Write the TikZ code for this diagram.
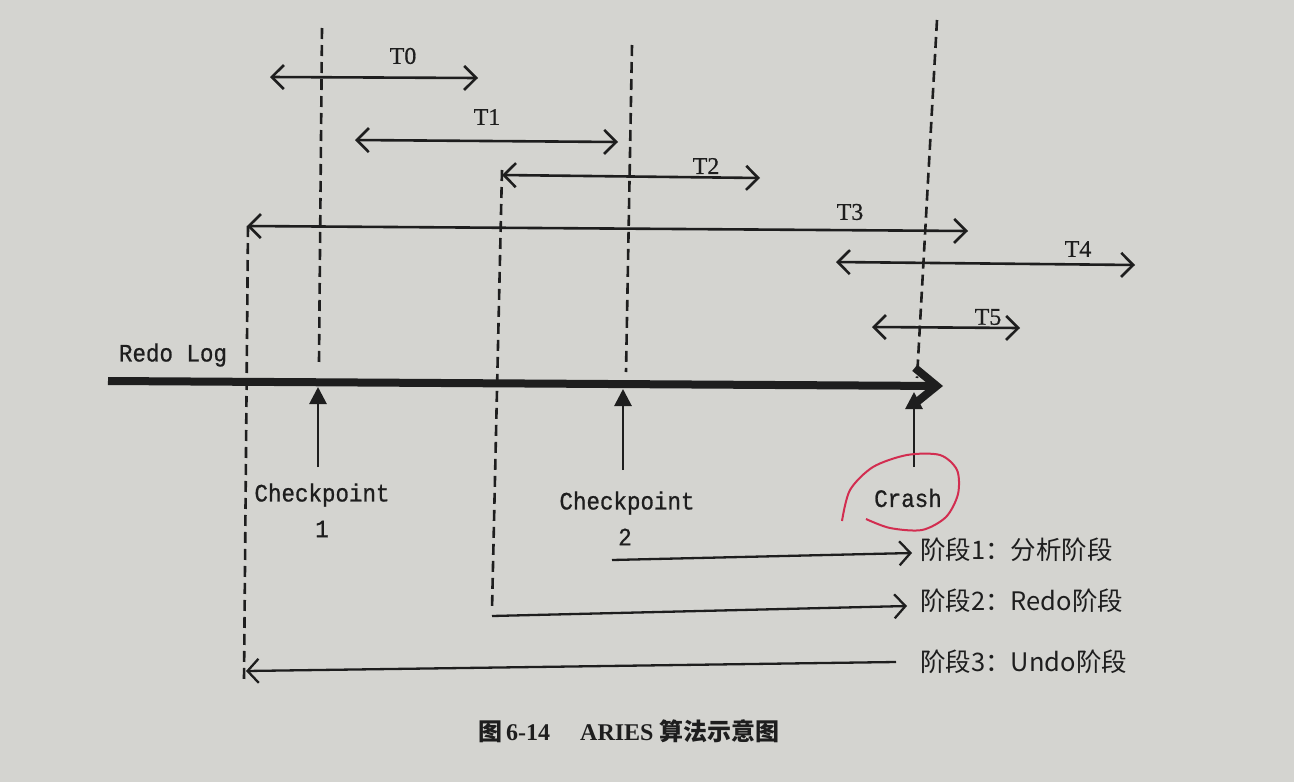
\documentclass[tikz,border=0pt]{standalone}
\usepackage{fontspec}
\setmainfont{Liberation Serif}
\newfontfamily\logfont[FakeStretch=0.9,FakeBold=0.8]{Liberation Mono}
\newfontfamily\tfont[FakeBold=0.6]{Liberation Serif}
\newfontfamily\cjk{Noto Sans CJK SC}
\usetikzlibrary{arrows.meta}
\definecolor{paper}{RGB}{212,212,208}
\definecolor{ink}{RGB}{30,30,30}
\definecolor{pen}{RGB}{210,45,80}
\tikzset{
  txn/.style={line width=2.6pt,{Straight Barb[length=12pt,width=24pt]}-{Straight Barb[length=12pt,width=24pt]}},
  ckline/.style={line width=2.6pt,dash pattern=on 11pt off 6pt},
  uparrow/.style={line width=2.8pt,-{Triangle[length=17pt,width=17pt]}},
  phase/.style={line width=2.3pt,-{Straight Barb[length=11pt,width=24pt]}},
  tlabel/.style={font=\tfont\fontsize{24}{24}\selectfont,inner sep=0pt},
  mlabel/.style={font=\logfont\fontsize{25}{25}\selectfont,inner sep=0pt},
  plabel/.style={font=\cjk\fontsize{25.5}{25.5}\selectfont,anchor=west,inner sep=0pt},
}
\begin{document}
\begin{tikzpicture}[x=1pt,y=-1pt,draw=ink,text=ink]
		\useasboundingbox[fill=paper] (0,0) rectangle (1294,782);
		% dashed time marks
		\coordinate (d1a) at (322,28);  \coordinate (d1b) at (319,362);
		\coordinate (d2a) at (632,45);  \coordinate (d2b) at (626,372);
		\coordinate (d3a) at (937,20);  \coordinate (d3b) at (917,378);
		\coordinate (d4a) at (248,226); \coordinate (d4b) at (244,680);
		\coordinate (d5a) at (502,170); \coordinate (d5b) at (492,610);
		\draw[ckline] (d1a)--(d1b);
		\draw[ckline] (d2a)--(d2b);
		\draw[ckline] (d3a)--(d3b);
		\draw[ckline] (d4a)--(d4b);
		\draw[ckline] (d5a)--(d5b);
		% transactions
		\coordinate (t0a) at (270,77);  \coordinate (t0b) at (478,78);
		\coordinate (t1a) at (355,140); \coordinate (t1b) at (618,142);
		\coordinate (t2a) at (502,175); \coordinate (t2b) at (760,178);
		\coordinate (t3a) at (247,226); \coordinate (t3b) at (968,231);
		\coordinate (t4a) at (836,262); \coordinate (t4b) at (1135,265);
		\coordinate (t5a) at (872,327); \coordinate (t5b) at (1020,328);
		\draw[txn] (t0a)--(t0b);
		\draw[txn] (t1a)--(t1b);
		\draw[txn] (t2a)--(t2b);
		\draw[txn] (t3a)--(t3b);
		\draw[txn] (t4a)--(t4b);
		\draw[txn] (t5a)--(t5b);
		\node[tlabel] (T0) at (403,56) {T0};
		\node[tlabel] (T1) at (487,117) {T1};
		\node[tlabel] (T2) at (706,166) {T2};
		\node[tlabel] (T3) at (850,212) {T3};
		\node[tlabel] (T4) at (1078,249) {T4};
		\node[tlabel] (T5) at (988,317) {T5};
		% redo log
		\coordinate (logA) at (108,381);
		\coordinate (logB) at (943,386);
		\draw[line width=8pt,-{Straight Barb[length=22pt,width=36pt]}] (logA)--(logB);
		\node[mlabel] (redo) at (173,355) {Redo Log};
		% checkpoints and crash
		\node[mlabel] (ck1) at (322,495) {Checkpoint};
		\node[mlabel] (ck1n) at (322,529) {1};
		\node[mlabel] (ck2) at (627,503) {Checkpoint};
		\node[mlabel] (ck2n) at (625,537) {2};
		\node[mlabel] (crash) at (908,498) {Crash};
		\coordinate (c1a) at (318,467); \coordinate (c1b) at (318,387);
		\coordinate (c2a) at (623,470); \coordinate (c2b) at (623,389);
		\coordinate (c3a) at (914,467); \coordinate (c3b) at (914,392);
		\draw[uparrow] (c1a)--(c1b);
		\draw[uparrow] (c2a)--(c2b);
		\draw[uparrow] (c3a)--(c3b);
		\draw[pen,line width=2pt] plot[smooth] coordinates {(842,521) (850,490) (873,467) (907,455) (940,455) (957,470) (958,494) (946,517) (922,530) (890,528) (866,519)};
		% recovery phases
		\coordinate (p1a) at (612,560); \coordinate (p1b) at (912,553);
		\coordinate (p2a) at (492,616); \coordinate (p2b) at (907,606);
		\coordinate (p3a) at (896,662); \coordinate (p3b) at (246,671);
		\draw[phase] (p1a)--(p1b);
		\draw[phase] (p2a)--(p2b);
		\draw[phase] (p3a)--(p3b);
		\node[plabel] (ph1) at (920,550) {阶段1：分析阶段};
		\node[plabel] (ph2) at (920,601) {阶段2：Redo阶段};
		\node[plabel] (ph3) at (920,662) {阶段3：Undo阶段};
		% caption
		\node[anchor=west,inner sep=0pt,font=\fontsize{24}{24}\selectfont] (cap) at (478,731) {{\cjk\bfseries 图}\,\textbf{6-14}\hspace{30pt}\textbf{ARIES} {\cjk\bfseries 算法示意图}};
\end{tikzpicture}
\end{document}
